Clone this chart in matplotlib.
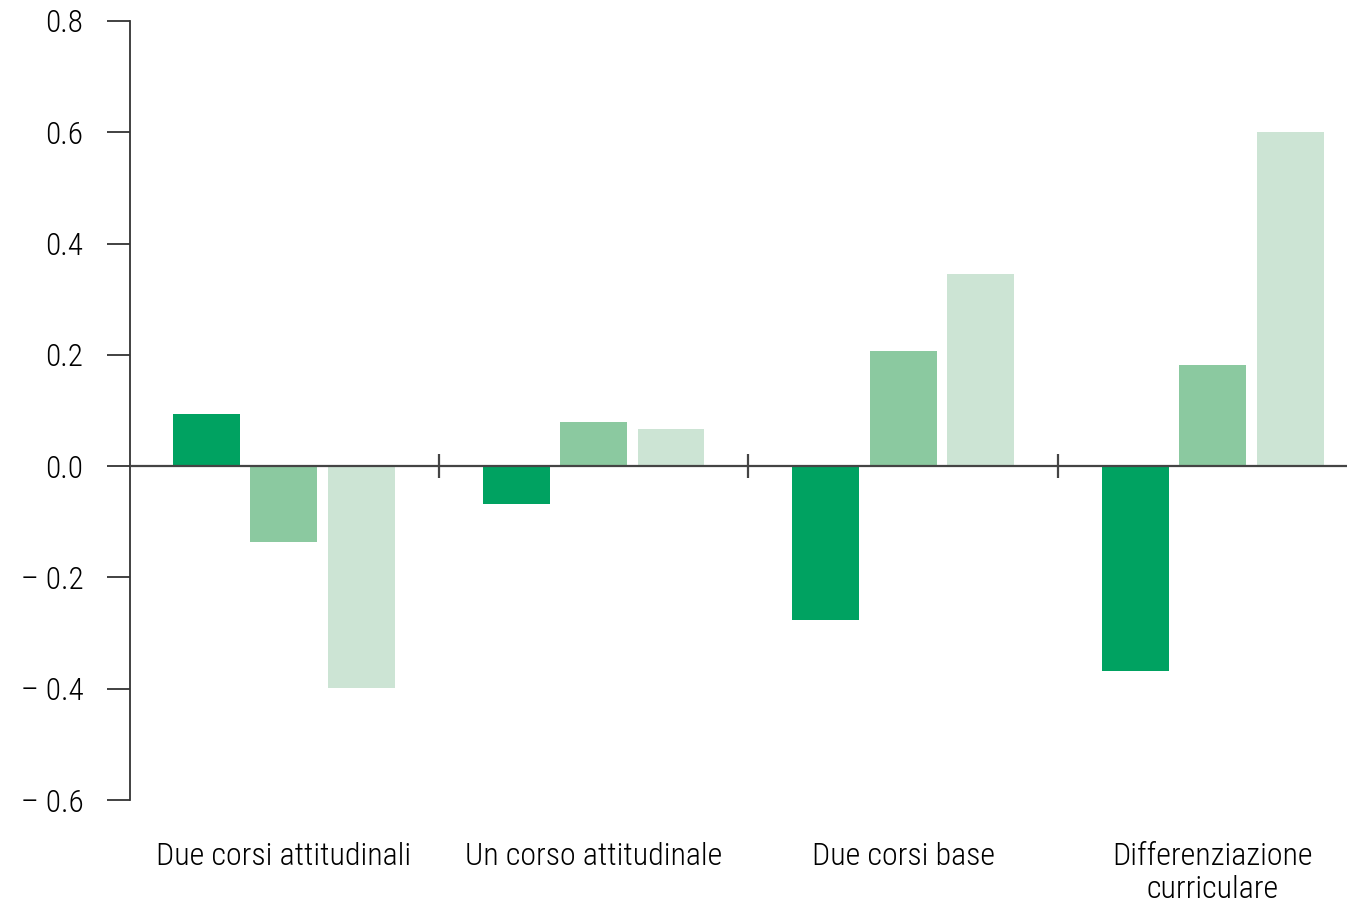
import matplotlib
matplotlib.use("Agg")
import matplotlib.pyplot as plt
import numpy as np

categories = ["Due corsi attitudinali", "Un corso attitudinale", "Due corsi base",
              "Differenziazione\ncurriculare"]
series_1 = [0.093, -0.068, -0.277, -0.368]
series_2 = [-0.137, 0.079, 0.207, 0.182]
series_3 = [-0.399, 0.066, 0.345, 0.600]
y_ticks = [-0.6, -0.4, -0.2, 0.0, 0.2, 0.4, 0.6, 0.8]
y_tick_labels = ["\u2013 0.6", "\u2013 0.4", "\u2013 0.2", "0.0", "0.2", "0.4", "0.6", "0.8"]

colors = ["#00a261", "#8bc9a0", "#cce4d4"]
plt.rcParams['font.family'] = ["Roboto Condensed", "DejaVu Sans"]
plt.rcParams['font.weight'] = "light"

fig = plt.figure(figsize=(13.47, 9.06), dpi=100)
ax = fig.add_axes([130/1347, 1-800/906, 1-130/1347, (800-21)/906])

x = np.arange(len(categories))
w = 0.216
pitch = 0.25
for i, (vals, c) in enumerate(zip([series_1, series_2, series_3], colors)):
    ax.bar(x + (i-1)*pitch, vals, width=w, color=c, linewidth=0, zorder=2)

ax.axhline(0, color="#444444", lw=1.6, zorder=3)
sep = x[:-1] + 0.5
ax.plot(sep, np.zeros_like(sep), ls="none", marker="|", markersize=17,
        markeredgewidth=1.6, color="#444444", zorder=3)

ax.set_xlim(-0.497, 3.433)
ax.set_ylim(-0.6, 0.8)
ax.set_yticks(y_ticks)
ax.set_yticklabels(y_tick_labels, fontsize=22.5, fontweight="light", color="black")
ax.tick_params(axis='y', length=16.5, width=1.3, color="#333333", pad=17)
ax.set_xticks(x)
ax.set_xticklabels(categories, fontsize=23, fontweight="light", linespacing=1.2, color="black")
ax.tick_params(axis='x', length=0, pad=30)
for s in ["top", "right", "bottom"]:
    ax.spines[s].set_visible(False)
ax.spines["left"].set_color("#333333")
ax.spines["left"].set_linewidth(1.3)

fig.savefig("out.png", dpi=100)
